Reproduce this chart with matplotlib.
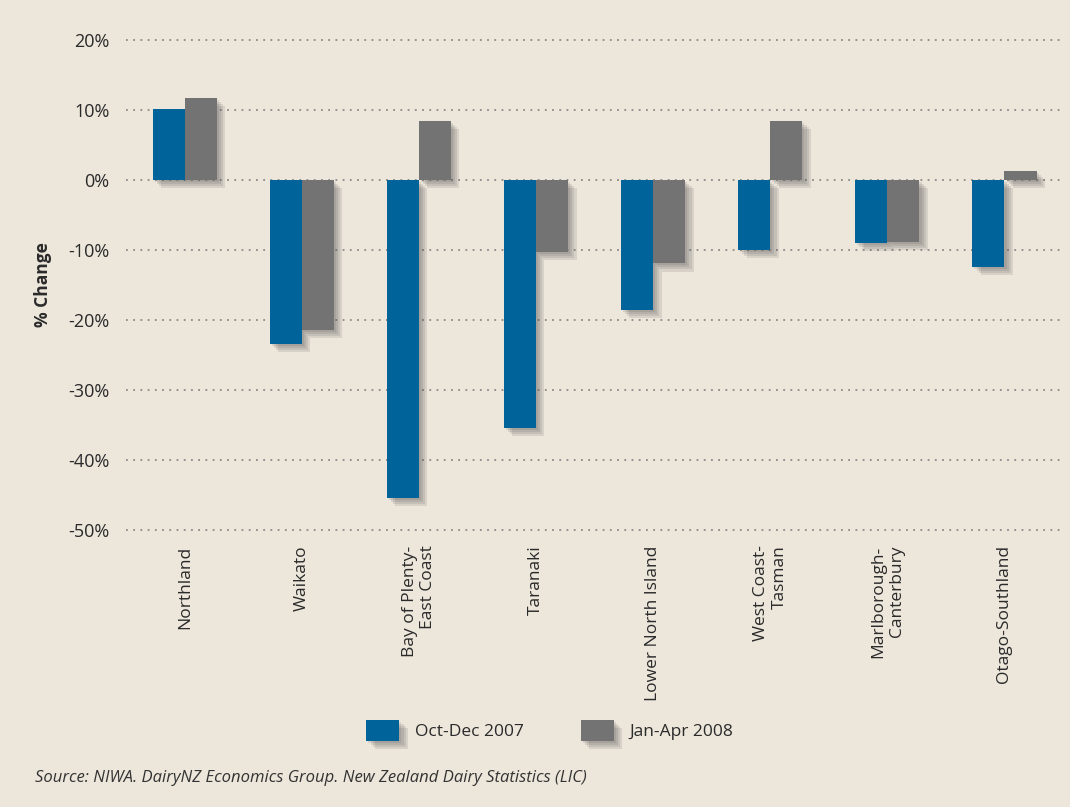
import matplotlib
matplotlib.use("Agg")
import matplotlib.pyplot as plt
import matplotlib.patheffects as pe
import numpy as np

regions = ["Northland", "Waikato", "Bay of Plenty-\nEast Coast", "Taranaki",
           "Lower North Island", "West Coast-\nTasman", "Marlborough-\nCanterbury",
           "Otago-Southland"]
oct_dec_2007 = [10.1, -23.4, -45.4, -35.4, -18.6, -10.0, -9.0, -12.4]
jan_apr_2008 = [11.7, -21.4, 8.4, -10.3, -11.9, 8.4, -8.9, 1.3]
yticks = [20, 10, 0, -10, -20, -30, -40, -50]

bg = "#ECE6DB"
blue = "#00649A"
grey = "#737373"

plt.rcParams['font.family'] = ['Open Sans', 'DejaVu Sans']

fig = plt.figure(figsize=(10.7, 8.07), dpi=100, facecolor=bg)
ax = fig.add_axes([0.118, 0.326, 0.8755, 0.642], facecolor=bg)

shadow = [pe.SimplePatchShadow(offset=(o, -o), shadow_rgbFace="#4a4a4a", alpha=0.13)
          for o in (1.5, 3, 4.5, 6)] + [pe.Normal()]

x = np.arange(len(regions))
w = 0.274
b1 = ax.bar(x - w / 2, oct_dec_2007, w, color=blue, label="Oct-Dec 2007", zorder=3)
b2 = ax.bar(x + w / 2, jan_apr_2008, w, color=grey, label="Jan-Apr 2008", zorder=3)
for bar in list(b1) + list(b2):
    bar.set_path_effects(shadow)

ax.set_xlim(-0.5, len(regions) - 0.5)
ax.set_ylim(-52, 22)
ax.set_yticks(yticks)
ax.set_yticklabels([f"{v}%" for v in yticks])
ax.yaxis.grid(True, linestyle=(0, (1, 3)), color="#8a8a8a", linewidth=1.3, zorder=0)
ax.set_axisbelow(True)
for s in ax.spines.values():
    s.set_visible(False)
ax.tick_params(axis="y", length=0, pad=12, labelsize=13, labelcolor="#2a2a2a")
ax.tick_params(axis="x", length=0, pad=1)
ax.set_xticks(x)
ax.set_xticklabels(regions, rotation=90, va="top", ha="center", multialignment="right",
                   fontsize=12.5, color="#2a2a2a")
ax.set_ylabel("% Change", fontsize=12.5, fontweight="bold", color="#2a2a2a", labelpad=12)

leg = fig.legend(handles=[b1, b2], loc="center", bbox_to_anchor=(0.514, 0.095), ncol=2,
                 frameon=False, fontsize=12.5, handlelength=1.9, handleheight=1.5,
                 columnspacing=3.3, handletextpad=0.9)
for t in leg.get_texts():
    t.set_color("#2a2a2a")

fig.text(0.033, 0.036, "Source: NIWA. DairyNZ Economics Group. New Zealand Dairy Statistics (LIC)",
         fontsize=12, style="italic", color="#333333", va="center")

fig.savefig("out.png", dpi=100, facecolor=bg)
